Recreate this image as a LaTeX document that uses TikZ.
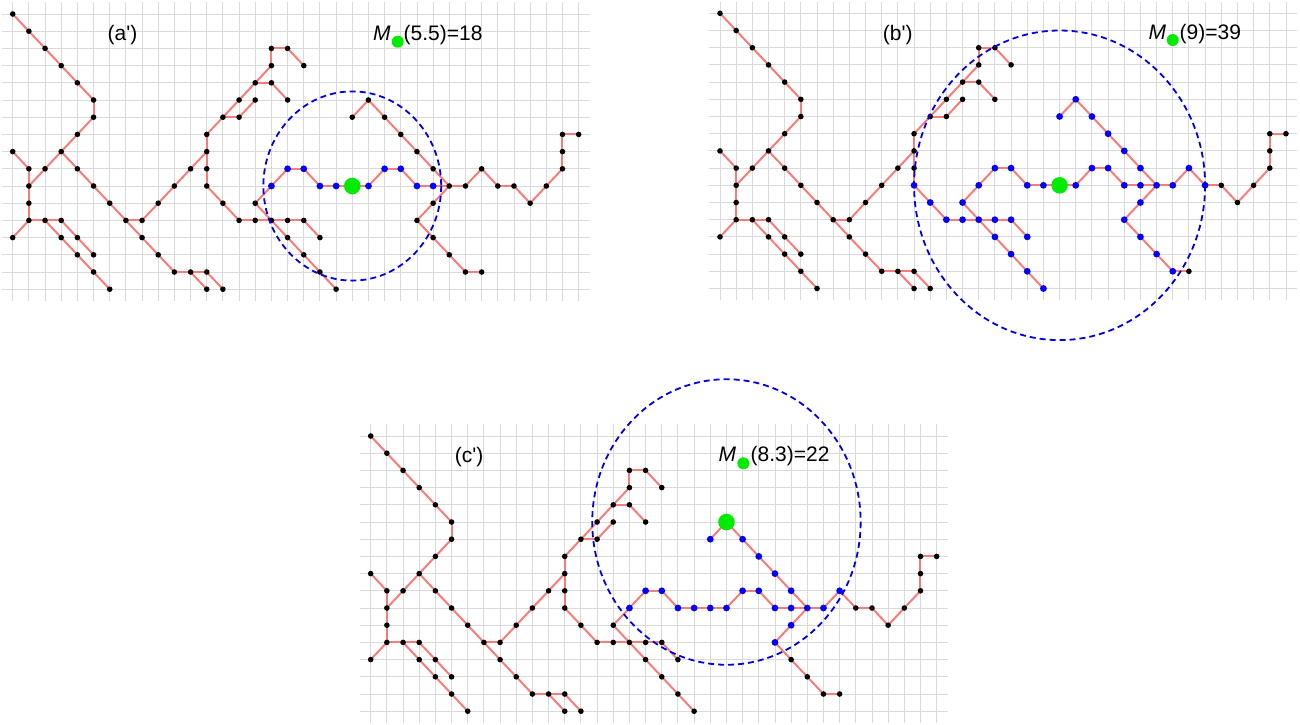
\documentclass[tikz,border=0pt]{standalone}
\usepackage{fontspec}
\setmainfont{Liberation Sans}
\pgfdeclarelayer{gridl}
\pgfdeclarelayer{edgel}
\pgfsetlayers{gridl,edgel,main}
\definecolor{edgecol}{RGB}{248,125,120}
\definecolor{gridcol}{RGB}{218,218,218}
\definecolor{dotblue}{RGB}{0,0,255}
\definecolor{dotgreen}{RGB}{0,235,0}
\definecolor{circblue}{RGB}{0,0,230}
\tikzset{
  kdot/.style={circle, fill=black, inner sep=0pt, minimum size=5.6pt},
  bdot/.style={circle, fill=dotblue, inner sep=0pt, minimum size=6.8pt},
  gdot/.style={circle, fill=dotgreen, inner sep=0pt, minimum size=16.6pt},
  gsmall/.style={circle, fill=dotgreen, inner sep=0pt, minimum size=12pt},
  link/.style={draw=edgecol, line width=2pt},
  gridline/.style={draw=gridcol, line width=0.9pt},
  ring/.style={draw=circblue, line width=1.8pt, dash pattern=on 6pt off 4pt},
  lbl/.style={font=\fontsize{21}{24}\selectfont, inner sep=0pt},
}
\def\allnodes{0/0,1/1,2/2,3/3,4/4,5/5,5/6,4/7,3/8,2/9,1/10,0/8,1/9,1/11,1/12,0/13,2/12,3/12,%
3/13,4/14,5/15,6/16,4/13,5/14,4/9,5/10,6/11,7/12,8/13,9/14,10/15,11/15,12/15,13/16,12/16,%
8/12,9/11,10/10,11/9,12/8,12/7,12/9,12/10,13/11,14/12,15/12,16/12,17/12,18/12,19/13,%
13/6,14/5,15/4,16/3,16/2,17/2,18/3,14/6,15/5,16/4,17/5,15/11,17/13,18/14,19/15,20/16,%
16/10,17/9,18/9,19/10,20/10,21/10,22/10,23/9,24/9,25/10,26/10,27/10,28/10,29/9,30/10,%
31/10,32/11,33/10,34/9,34/8,34/7,35/7,21/6,22/5,23/6,24/7,25/8,26/9,26/11,25/12,26/13,%
27/14,28/15,29/15}
\def\alledges{0/0/1/1,1/1/2/2,2/2/3/3,3/3/4/4,4/4/5/5,5/5/5/6,5/6/4/7,4/7/3/8,3/8/2/9,2/9/1/10,%
0/8/1/9,1/9/1/10,1/10/1/11,1/11/1/12,1/12/0/13,1/12/2/12,2/12/3/12,%
2/12/3/13,3/13/4/14,4/14/5/15,5/15/6/16,3/12/4/13,4/13/5/14,%
3/8/4/9,4/9/5/10,5/10/6/11,6/11/7/12,7/12/8/13,8/13/9/14,9/14/10/15,10/15/11/15,11/15/12/15,12/15/13/16,11/15/12/16,%
7/12/8/12,8/12/9/11,9/11/10/10,10/10/11/9,11/9/12/8,%
12/7/12/8,12/8/12/9,12/9/12/10,12/10/13/11,13/11/14/12,14/12/15/12,15/12/16/12,16/12/17/12,17/12/18/12,18/12/19/13,%
12/7/13/6,13/6/14/5,14/5/15/4,15/4/16/3,16/3/16/2,16/2/17/2,17/2/18/3,%
13/6/14/6,14/6/15/5,15/4/16/4,16/4/17/5,%
15/11/16/12,16/12/17/13,17/13/18/14,18/14/19/15,19/15/20/16,%
15/11/16/10,16/10/17/9,17/9/18/9,18/9/19/10,19/10/20/10,20/10/21/10,21/10/22/10,22/10/23/9,23/9/24/9,%
24/9/25/10,25/10/26/10,26/10/27/10,27/10/28/10,28/10/29/9,29/9/30/10,30/10/31/10,31/10/32/11,%
32/11/33/10,33/10/34/9,34/9/34/8,34/8/34/7,34/7/35/7,%
21/6/22/5,22/5/23/6,23/6/24/7,24/7/25/8,25/8/26/9,26/9/27/10,%
27/10/26/11,26/11/25/12,25/12/26/13,26/13/27/14,27/14/28/15,28/15/29/15}
\newcommand\markset[3]{\foreach \nn in {#3}{\expandafter\gdef\csname is#2-#1-\nn\endcsname{}}}
\markset{a}{g}{21-10}
\markset{a}{b}{16-10,17-9,18-9,19-10,20-10,22-10,23-9,24-9,25-10,26-10}
\markset{b}{g}{21-10}
\markset{b}{b}{12-10,13-11,14-12,15-12,16-12,17-12,18-12,19-13,15-11,16-10,17-9,18-9,19-10,20-10,%
22-10,23-9,24-9,25-10,26-10,27-10,28-10,29-9,30-10,21-6,22-5,23-6,24-7,25-8,26-9,26-11,25-12,%
26-13,27-14,28-15,17-13,18-14,19-15,20-16}
\markset{c}{g}{22-5}
\markset{c}{b}{16-10,17-9,18-9,19-10,20-10,21-10,22-10,23-9,24-9,25-10,26-10,27-10,28-10,29-9,%
21-6,23-6,24-7,25-8,26-9,26-11,25-12}
\newcommand\drawpanel[3]{%
\begin{scope}[shift={(#2,#3)}, x=16.17pt, y=-17.2pt]
  \begin{pgfonlayer}{gridl}
    \foreach \ci in {0,...,35} \draw[gridline] (\ci,-0.67) -- (\ci,16.67);
    \foreach \ri in {0,...,16} \draw[gridline] (-0.68,\ri) -- (35.7,\ri);
  \end{pgfonlayer}
  \foreach \ci/\ri in \allnodes {%
    \ifcsname isg-#1-\ci-\ri\endcsname \def\sty{gdot}%
    \else\ifcsname isb-#1-\ci-\ri\endcsname \def\sty{bdot}\else \def\sty{kdot}\fi\fi
    \edef\tmp{\noexpand\node[\sty] (#1-\ci-\ri) at (\ci,\ri) {};}\tmp
  }
  \begin{pgfonlayer}{edgel}
    \foreach \ai/\bi/\ci/\di in \alledges
      \draw[link] (#1-\ai-\bi.center) -- (#1-\ci-\di.center);
  \end{pgfonlayer}
\end{scope}}
\begin{document}
\begin{tikzpicture}[x=1pt, y=-1pt]
\useasboundingbox (0,0) rectangle (1300,724);
\drawpanel{a}{12.7}{14}
\drawpanel{b}{720}{13.3}
\drawpanel{c}{370.7}{436}
\begin{scope}[x=16.17pt, y=-17.2pt]
  \draw[ring] (a-21-10.center) circle [radius=5.5];
  \draw[ring] (b-21-10.center) circle [radius=9];
  \draw[ring] (c-22-5.center) circle [radius=8.3];
\end{scope}
% labels
\node[lbl, anchor=base] (a-tag) at (122.5,40.5) {(a\textquotesingle)};
\node[lbl, anchor=base west] (a-m) at (373,40) {\itshape M};
\node[gsmall] (a-mdot) at (397.7,41.7) {};
\node[lbl, anchor=base west] (a-val) at (403.5,40) {(5.5)=18};
\node[lbl, anchor=base] (b-tag) at (897.8,40.5) {(b\textquotesingle)};
\node[lbl, anchor=base west] (b-m) at (1148.5,39.5) {\itshape M};
\node[gsmall] (b-mdot) at (1172.7,40) {};
\node[lbl, anchor=base west] (b-val) at (1179.5,39.5) {(9)=39};
\node[lbl, anchor=base] (c-tag) at (469.2,462.5) {(c\textquotesingle)};
\node[lbl, anchor=base west] (c-m) at (718.5,461.7) {\itshape M};
\node[gsmall] (c-mdot) at (743.3,463.3) {};
\node[lbl, anchor=base west] (c-val) at (750.5,461.7) {(8.3)=22};
\end{tikzpicture}
\end{document}
